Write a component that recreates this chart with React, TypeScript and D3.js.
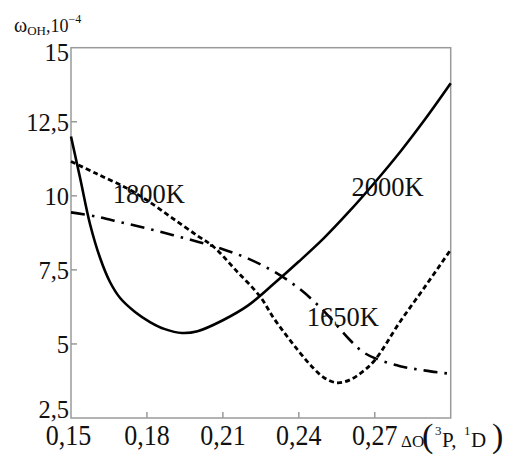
import React from "react";
import * as d3 from "d3";

const W = 507;
const H = 455;

const xTicks = [0.15, 0.18, 0.21, 0.24, 0.27];
const xTickLabels = ["0,15", "0,18", "0,21", "0,24", "0,27"];
const yTicks = [2.5, 5, 7.5, 10, 12.5, 15];
const yTickLabels = ["2,5", "5", "7,5", "10", "12,5", "15"];

// 2000K (solid)
const xSolid = [0.15, 0.1536, 0.1575, 0.1615, 0.1654, 0.1694, 0.1753, 0.1812, 0.1871, 0.1938, 0.2, 0.21, 0.22, 0.23, 0.24, 0.25, 0.26, 0.27, 0.28, 0.29, 0.3];
const ySolid = [12.0, 10.6, 9.05, 7.9, 7.09, 6.55, 6.08, 5.74, 5.5, 5.37, 5.43, 5.8, 6.3, 7.02, 7.78, 8.58, 9.48, 10.45, 11.48, 12.6, 13.8];

// dotted curve
const xDotted = [0.15, 0.16, 0.172, 0.18, 0.19, 0.2, 0.2062, 0.215, 0.2247, 0.23, 0.235, 0.24, 0.245, 0.25, 0.255, 0.26, 0.265, 0.27, 0.28, 0.29, 0.3];
const yDotted = [11.16, 10.75, 10.26, 9.85, 9.25, 8.65, 8.29, 7.5, 6.6, 5.88, 5.3, 4.75, 4.25, 3.86, 3.69, 3.78, 4.05, 4.45, 5.75, 6.95, 8.18];

// dash-dot curve
const xDashDot = [0.15, 0.16, 0.17, 0.18, 0.19, 0.2, 0.21, 0.22, 0.23, 0.24, 0.25, 0.26, 0.265, 0.27, 0.28, 0.29, 0.3];
const yDashDot = [9.44, 9.3, 9.1, 8.9, 8.68, 8.45, 8.2, 7.88, 7.45, 6.88, 6.1, 5.15, 4.75, 4.52, 4.25, 4.1, 3.99];

const curveLabels = [
  { text: "1800K", x: 0.1665, y: 9.75 },
  { text: "2000K", x: 0.2608, y: 10.0 },
  { text: "1650K", x: 0.2431, y: 5.6 },
];

const FONT = "Liberation Serif, Times New Roman, DejaVu Serif, serif";
const fs = (size: number) => ({ fontFamily: FONT, fontSize: size + "px" });

export default function App() {
  const left = 71, right = 450.7, top = 47.7, bottom = 418;
  const x = d3.scaleLinear().domain([0.15, 0.3]).range([left, right]);
  const y = d3.scaleLinear().domain([2.5, 15]).range([bottom, top]);

  const mk = (xs: number[], ys: number[]) =>
    d3
      .line<number>()
      .x((_, i) => x(xs[i]))
      .y((_, i) => y(ys[i]))
      .curve(d3.curveCatmullRom.alpha(0.5))(ys) as string;

  const frame = "#9a9a9a";

  return (
    <svg
      width={W}
      height={H}
      style={{ position: "absolute", left: 0, top: 0, background: "#fff" }}
    >
      <rect x={0} y={0} width={W} height={H} fill="#fff" />
      {/* frame */}
      <rect x={left} y={top} width={right - left} height={bottom - top} fill="none" stroke={frame} strokeWidth={1.5} />
      {/* y ticks */}
      {yTicks.map((t, i) => (
        <g key={"y" + i}>
          {i > 0 && i < yTicks.length - 1 && (
            <line x1={left} x2={left + 6} y1={y(t)} y2={y(t)} stroke={frame} strokeWidth={1.5} />
          )}
          <text
            x={left - 2}
            y={y(t) + 8 + (i === 0 ? -8 : i === yTicks.length - 1 ? 5 : 1)}
            style={fs(24.5)}
            textAnchor="end"
            fill="#111"
          >
            {yTickLabels[i]}
          </text>
        </g>
      ))}
      {/* x ticks */}
      {xTicks.map((t, i) => (
        <g key={"x" + i}>
          {i > 0 && (
            <line x1={x(t)} x2={x(t)} y1={bottom} y2={bottom - 6} stroke={frame} strokeWidth={1.5} />
          )}
          <text
            x={x(t) - (i === 0 ? 2.5 : 0)}
            y={445}
            style={fs(26)}
            textAnchor="middle"
            fill="#111"
            transform={`translate(0,445) scale(1,1.1) translate(0,-445)`}
          >
            {xTickLabels[i]}
          </text>
        </g>
      ))}
      {/* curves */}
      <path d={mk(xSolid, ySolid)} fill="none" stroke="#000" strokeWidth={2.6} />
      <path d={mk(xDotted, yDotted)} fill="none" stroke="#000" strokeWidth={2.8} strokeDasharray="5,3.2" />
      <path d={mk(xDashDot, yDashDot)} fill="none" stroke="#000" strokeWidth={2.6} strokeDasharray="14,7,2.5,7" />
      {/* curve labels */}
      {curveLabels.map((l, i) => (
        <text key={"l" + i} x={x(l.x)} y={y(l.y)} style={fs(26.5)} fill="#111">
          {l.text}
        </text>
      ))}
      {/* y axis title */}
      <text x={14} y={31.5} fill="#111" style={{ fontFamily: FONT }}>
        <tspan style={fs(20)}>ω</tspan>
        <tspan style={fs(13)} dy={3.5}>OH</tspan>
        <tspan style={fs(18)} dy={-3.5}>,10</tspan>
        <tspan style={fs(12)} dy={-9}>−4</tspan>
      </text>
      {/* x axis title */}
      <g>
        <text x={401} y={447} style={fs(17)} fill="#111">ΔO</text>
        <text x={422} y={447} style={fs(34)} fill="#111">(</text>
        <text x={435} y={435} style={fs(13)} fill="#111">3</text>
        <text x={442} y={447} style={fs(21)} fill="#111">P,</text>
        <text x={464} y={435} style={fs(13)} fill="#111">1</text>
        <text x={471} y={447} style={fs(21)} fill="#111">D</text>
        <text x={492} y={447} style={fs(34)} fill="#111">)</text>
      </g>
    </svg>
  );
}
